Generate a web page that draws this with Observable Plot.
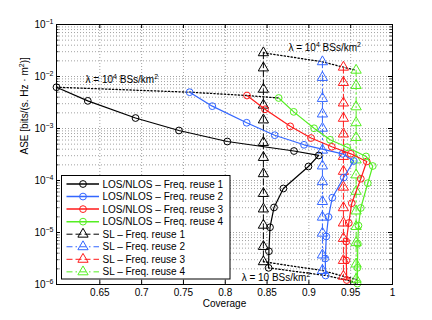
<!DOCTYPE html>
<html><head><meta charset="utf-8">
<script src="https://cdn.jsdelivr.net/npm/d3@7"></script>
<script src="https://cdn.jsdelivr.net/npm/@observablehq/plot@0.6"></script>
<style>body{margin:0;background:#fff}#chart{width:432px;height:320px}</style>
</head><body><div id="chart"></div>
<script>
// ---------- data ----------
const seriesNames = ["Freq. reuse 1", "Freq. reuse 2", "Freq. reuse 3", "Freq. reuse 4"];
const colors = ["#000000", "#3366ff", "#ff1a1a", "#55ee22"];

// LOS/NLOS curves (coverage, ASE), from λ = 10^4 (first) down to λ = 10 (last)
const losCoverage1 = [0.5982, 0.6356, 0.6927, 0.7446, 0.8025, 0.8822, 0.9118, 0.8995, 0.8695, 0.8583, 0.8535, 0.8522, 0.8518];
const losAse1      = [6.22e-3, 3.40e-3, 1.59e-3, 9.16e-4, 5.62e-4, 3.69e-4, 3.03e-4, 1.86e-4, 7.02e-5, 3.03e-5, 1.26e-5, 4.36e-6, 2.09e-6];
const losCoverage2 = [0.7574, 0.7845, 0.8256, 0.8591, 0.8942, 0.9402, 0.9537, 0.9417, 0.9280, 0.9234, 0.9208, 0.9196, 0.9200];
const losAse2      = [4.99e-3, 2.69e-3, 1.29e-3, 7.43e-4, 4.86e-4, 3.26e-4, 2.37e-4, 1.14e-4, 4.67e-5, 1.99e-5, 8.38e-6, 3.16e-6, 1.49e-6];
const losCoverage3 = [0.8260, 0.8475, 0.8777, 0.9026, 0.9274, 0.9501, 0.9692, 0.9621, 0.9513, 0.9477, 0.9447, 0.9447, 0.9453];
const losAse3      = [4.31e-3, 2.34e-3, 1.10e-3, 6.56e-4, 4.45e-4, 3.26e-4, 2.32e-4, 1.08e-4, 3.66e-5, 1.52e-5, 6.71e-6, 2.90e-6, 1.22e-6];
const losCoverage4 = [0.8639, 0.8819, 0.9062, 0.9253, 0.9457, 0.9684, 0.9764, 0.9704, 0.9621, 0.9593, 0.9585, 0.9581, 0.9581];
const losAse4      = [3.86e-3, 2.09e-3, 1.01e-3, 6.07e-4, 4.37e-4, 2.90e-4, 1.90e-4, 8.87e-5, 2.96e-5, 1.36e-5, 6.07e-6, 2.09e-6, 1.04e-6];

// SL curves: constant coverage per reuse factor
const slCoverage = [0.8456, 0.9162, 0.9413, 0.9565];
const slAse1 = [2.86e-2, 1.46e-2, 5.68e-3, 2.81e-3, 1.46e-3, 5.38e-4, 2.77e-4, 1.35e-4, 5.62e-5, 2.83e-5, 1.38e-5, 5.38e-6, 2.74e-6];
const slAse2 = [1.92e-2, 9.57e-3, 3.78e-3, 1.90e-3, 1.01e-3, 3.83e-4, 1.90e-4, 9.48e-5, 3.94e-5, 1.97e-5, 9.70e-6, 3.69e-6, 1.86e-6];
const slAse3 = [1.51e-2, 7.67e-3, 3.09e-3, 1.57e-3, 7.83e-4, 2.90e-4, 1.50e-4, 7.43e-5, 2.99e-5, 1.52e-5, 7.67e-6, 2.90e-6, 1.44e-6];
const slAse4 = [1.32e-2, 6.71e-3, 2.61e-3, 1.29e-3, 6.71e-4, 2.48e-4, 1.28e-4, 6.19e-5, 2.59e-5, 1.30e-5, 6.37e-6, 2.48e-6, 1.26e-6];

const xTicks = [0.65, 0.7, 0.75, 0.8, 0.85, 0.9, 0.95, 1];
const xTickLabels = ["0.65", "0.7", "0.75", "0.8", "0.85", "0.9", "0.95", "1"];
const yTicks = [1e-6, 1e-5, 1e-4, 1e-3, 1e-2, 1e-1];
const yTickLabels = ["10^{−6}", "10^{−5}", "10^{−4}", "10^{−3}", "10^{−2}", "10^{−1}"];

const xLabel = "Coverage";
const yLabel = "ASE [bits/(s. Hz · m^{2})]";
const annotations = [
  {x: 0.6329, y: 8.75e-3, text: "λ = 10^{4} BSs/km^{2}"},
  {x: 0.8755, y: 3.5e-2, text: "λ = 10^{4} BSs/km^{2}"},
  {x: 0.8196, y: 1.35e-6, text: "λ = 10 BSs/km^{2}"}
];
const slDash = ["6,3", "6,3,1.5,3", "6,3", "6,3,1.5,3"];

// ---------- tables ----------
const losC = [losCoverage1, losCoverage2, losCoverage3, losCoverage4];
const losA = [losAse1, losAse2, losAse3, losAse4];
const slA = [slAse1, slAse2, slAse3, slAse4];
const los = losC.map((c, i) => c.map((x, j) => ({x, y: losA[i][j]})));
const sl = slA.map((a, i) => a.map(y => ({x: slCoverage[i], y})));
const topLos = los.map(s => s[0]);
const botLos = los.map(s => s[s.length - 1]);
const topSl = sl.map(s => s[0]);
const botSl = sl.map(s => s[s.length - 1]);

const minorY = [];
for (let e = -6; e <= -2; e++) for (let m = 1; m <= 9; m++) if (!(e === -6 && m === 1)) minorY.push(m * Math.pow(10, e));
const decadesInner = [1e-5, 1e-4, 1e-3, 1e-2];
const xGrid = xTicks.slice(0, -1);

const W = 432, H = 320, mL = 56, mR = 40, mT = 24, mB = 36;
const pW = W - mL - mR, pH = H - mT - mB;
const gridStyle = {stroke: "#8a8a8a", strokeDasharray: "1,2", strokeWidth: 0.8};

const marks = [
  Plot.ruleY(minorY, {y: d => d, ...gridStyle}),
  Plot.ruleX(xGrid, {x: d => d, ...gridStyle}),
  // inward ticks
  Plot.ruleX(xTicks, {x: d => d, insetTop: pH - 4, stroke: "black"}),
  Plot.ruleX(xTicks, {x: d => d, insetBottom: pH - 4, stroke: "black"}),
  Plot.ruleY(decadesInner, {y: d => d, insetRight: pW - 4, stroke: "black"}),
  Plot.ruleY(decadesInner, {y: d => d, insetLeft: pW - 4, stroke: "black"}),
  Plot.ruleY(minorY, {y: d => d, insetRight: pW - 2.5, stroke: "black", strokeWidth: 0.8}),
  Plot.ruleY(minorY, {y: d => d, insetLeft: pW - 2.5, stroke: "black", strokeWidth: 0.8}),
  // λ connectors
  ...[topLos, botLos, topSl, botSl].map(d => Plot.line(d, {x: "x", y: "y", stroke: "black", strokeWidth: 1.3, strokeDasharray: "1.3,2.2"}))
];
for (let i = 0; i < 4; i++) {
  marks.push(Plot.line(sl[i], {x: "x", y: "y", stroke: colors[i], strokeWidth: 1, strokeDasharray: slDash[i]}));
  marks.push(Plot.dot(sl[i], {x: "x", y: "y", symbol: "triangle", r: 3.8, stroke: colors[i], fill: "none", strokeWidth: 1}));
}
for (let i = 0; i < 4; i++) {
  marks.push(Plot.line(los[i], {x: "x", y: "y", stroke: colors[i], strokeWidth: 1.2}));
  marks.push(Plot.dot(los[i], {x: "x", y: "y", r: 3.4, stroke: colors[i], fill: "none", strokeWidth: 1}));
}
marks.push(
  Plot.text(annotations, {x: "x", y: "y", text: "text", textAnchor: "start", fontSize: 10, fill: "black"}),
  Plot.text(xTicks, {x: d => d, frameAnchor: "bottom", dy: 4, lineAnchor: "top", text: (d, i) => xTickLabels[i], fontSize: 10}),
  Plot.text(yTicks, {y: d => d, frameAnchor: "left", dx: -3, textAnchor: "end", text: (d, i) => yTickLabels[i], fontSize: 10}),
  Plot.text([xLabel], {frameAnchor: "bottom", dy: 22, text: d => d, fontSize: 10}),
  Plot.text([yLabel], {frameAnchor: "left", dx: -32, rotate: -90, text: d => d, fontSize: 10}),
  Plot.frame({stroke: "black", strokeWidth: 1})
);

const chart = Plot.plot({
  width: W, height: H,
  marginLeft: mL, marginRight: mR, marginTop: mT, marginBottom: mB,
  x: {domain: [0.5982, 1], axis: null},
  y: {type: "log", domain: [1e-6, 1e-1], axis: null},
  style: {fontFamily: "'Liberation Sans', Arial, sans-serif", fontSize: "10px", background: "white", overflow: "visible"},
  marks
});
document.getElementById("chart").appendChild(chart);

// superscripts
const NS = "http://www.w3.org/2000/svg";
function applySup(root) {
  root.querySelectorAll("text").forEach(t => {
    const s = t.textContent;
    if (!s.includes("^{")) return;
    const parts = s.split(/\^\{([^}]*)\}/);
    while (t.firstChild) t.removeChild(t.firstChild);
    let shifted = false;
    parts.forEach((p, i) => {
      if (!p) return;
      const ts = document.createElementNS(NS, "tspan");
      ts.textContent = p;
      if (i % 2) { ts.setAttribute("dy", "-4"); ts.setAttribute("font-size", "7"); shifted = true; }
      else if (shifted) { ts.setAttribute("dy", "4"); shifted = false; }
      t.appendChild(ts);
    });
  });
}
applySup(chart);

// legend
const lg = d3.select(chart).append("g")
  .attr("font-family", "'Liberation Sans', Arial, sans-serif").attr("font-size", 10).attr("text-anchor", "start");
const bx = 61.5, by = 175.5, bw = 168.5, bh = 103.5;
lg.append("rect").attr("x", bx).attr("y", by).attr("width", bw).attr("height", bh).attr("fill", "white").attr("stroke", "black").attr("stroke-width", 1);
const entries = [
  ...seriesNames.map((n, i) => ({label: "LOS/NLOS – " + n, color: colors[i], sl: false, dash: null})),
  ...seriesNames.map((n, i) => ({label: "SL – " + n, color: colors[i], sl: true, dash: slDash[i]}))
];
entries.forEach((e, k) => {
  const cy = by + 8.5 + k * 12.55;
  lg.append("line").attr("x1", bx + 5).attr("x2", bx + 37.5).attr("y1", cy).attr("y2", cy)
    .attr("stroke", e.color).attr("stroke-width", e.sl ? 1 : 1.5).attr("stroke-dasharray", e.dash);
  if (e.sl) {
    lg.append("path").attr("d", d3.symbol(d3.symbolTriangle, 3.8 * 3.8 * Math.PI)()).attr("transform", `translate(${bx + 21.5},${cy})`)
      .attr("fill", "none").attr("stroke", e.color);
  } else {
    lg.append("circle").attr("cx", bx + 21.5).attr("cy", cy).attr("r", 3.4).attr("fill", "none").attr("stroke", e.color);
  }
  lg.append("text").attr("x", bx + 41).attr("y", cy).attr("dy", "0.35em").attr("text-anchor", "start").attr("fill", "black").text(e.label);
});
</script>
</body></html>
